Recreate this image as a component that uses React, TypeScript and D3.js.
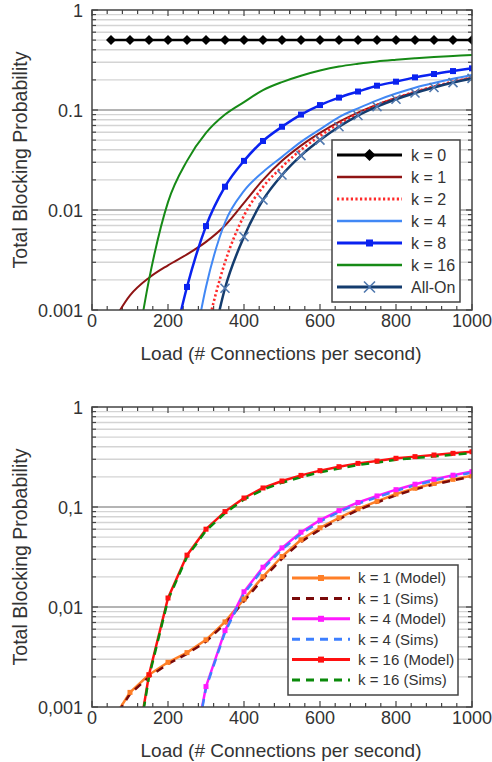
import React from "react";
import * as d3 from "d3";

// loads (# connections per second) at which every curve was sampled
const loads = [50, 100, 150, 200, 250, 300, 350, 400, 450, 500, 550, 600, 650, 700, 750, 800, 850, 900, 950, 1000];
const xTicks = [0, 200, 400, 600, 800, 1000];
const yTicks = [0.001, 0.01, 0.1, 1];
const topYLabels = ["0.001", "0.01", "0.1", "1"];
const bottomYLabels = ["0,001", "0,01", "0,1", "1"];
const xTitle = "Load (# Connections per second)";
const yTitle = "Total Blocking Probability";

// top panel, values start at the given load
const k0Start = 50;
const k0 = [0.5, 0.5, 0.5, 0.5, 0.5, 0.5, 0.5, 0.5, 0.5, 0.5, 0.5, 0.5, 0.5, 0.5, 0.5, 0.5, 0.5, 0.5, 0.5, 0.5];
const k1Start = 50;
const k1 = [0.0007, 0.0014, 0.0021, 0.0028, 0.0036, 0.0048, 0.007, 0.0118, 0.02, 0.031, 0.044, 0.059, 0.076, 0.094, 0.113, 0.132, 0.151, 0.17, 0.19, 0.21];
const k2Start = 300;
const k2 = [0.0006, 0.003, 0.0088, 0.017, 0.027, 0.04, 0.055, 0.073, 0.092, 0.112, 0.132, 0.152, 0.172, 0.192, 0.211];
const k4Start = 250;
const k4 = [0.00016, 0.0017, 0.0075, 0.0155, 0.024, 0.034, 0.048, 0.064, 0.085, 0.104, 0.125, 0.146, 0.167, 0.186, 0.205, 0.224];
const k8Start = 200;
const k8 = [0.00026, 0.0017, 0.0069, 0.0171, 0.031, 0.049, 0.068, 0.09, 0.112, 0.133, 0.153, 0.175, 0.192, 0.212, 0.229, 0.245, 0.261];
const k16Start = 100;
const k16 = [0.00015, 0.002, 0.012, 0.031, 0.059, 0.09, 0.12, 0.158, 0.19, 0.22, 0.248, 0.272, 0.29, 0.306, 0.318, 0.329, 0.339, 0.347, 0.355];
const allOnStart = 300;
const allOn = [0.00023, 0.00165, 0.0054, 0.0126, 0.0224, 0.035, 0.05, 0.068, 0.088, 0.108, 0.128, 0.148, 0.168, 0.188, 0.207];

// bottom panel, model vs simulations
const k1ModelStart = 50;
const k1Model = [0.0007, 0.0014, 0.0021, 0.0028, 0.0035, 0.0047, 0.0071, 0.012, 0.0201, 0.032, 0.047, 0.062, 0.078, 0.096, 0.114, 0.135, 0.154, 0.172, 0.189, 0.205];
const k1Sims = [0.00068, 0.00135, 0.002, 0.0027, 0.0034, 0.0045, 0.0068, 0.0114, 0.0192, 0.0305, 0.0448, 0.0595, 0.0755, 0.093, 0.111, 0.131, 0.15, 0.168, 0.185, 0.201];
const k4ModelStart = 250;
const k4Model = [0.00016, 0.0016, 0.0058, 0.0142, 0.025, 0.039, 0.056, 0.074, 0.092, 0.111, 0.129, 0.149, 0.169, 0.189, 0.208, 0.226];
const k4Sims = [0.00015, 0.00155, 0.0056, 0.0136, 0.024, 0.0375, 0.054, 0.0715, 0.089, 0.108, 0.125, 0.145, 0.165, 0.184, 0.203, 0.221];
const k16ModelStart = 100;
const k16Model = [0.00015, 0.0021, 0.0123, 0.033, 0.06, 0.09, 0.123, 0.155, 0.182, 0.207, 0.231, 0.253, 0.273, 0.288, 0.307, 0.319, 0.331, 0.344, 0.357];
const k16Sims = [0.00014, 0.002, 0.0118, 0.0318, 0.058, 0.087, 0.119, 0.149, 0.175, 0.199, 0.222, 0.243, 0.263, 0.278, 0.297, 0.309, 0.321, 0.333, 0.346];

type Marker = "diamond" | "square" | "x" | null;
type Series = {
  label: string;
  start: number;
  values: number[];
  color: string;
  width: number;
  dash?: string;
  marker: Marker;
  markerColor?: string;
  markerSize?: number;
};

const topSeries: Series[] = [
  { label: "k = 0", start: k0Start, values: k0, color: "#000", width: 2.5, marker: "diamond", markerSize: 5 },
  { label: "k = 1", start: k1Start, values: k1, color: "#8f1414", width: 2, marker: null },
  { label: "k = 2", start: k2Start, values: k2, color: "#ff2a2a", width: 2.6, dash: "2.2,2.4", marker: null },
  { label: "k = 4", start: k4Start, values: k4, color: "#4188f5", width: 2, marker: null },
  { label: "k = 8", start: k8Start, values: k8, color: "#0a22f0", width: 2.5, marker: "square", markerSize: 6 },
  { label: "k = 16", start: k16Start, values: k16, color: "#168a16", width: 2, marker: null },
  { label: "All-On", start: allOnStart, values: allOn, color: "#143c6e", width: 2.5, marker: "x", markerColor: "#5078ae", markerSize: 4.5 },
];

const bottomSeries: Series[] = [
  { label: "k = 1 (Model)", start: k1ModelStart, values: k1Model, color: "#ff7f27", width: 2.5, marker: "square", markerSize: 5 },
  { label: "k = 1 (Sims)", start: k1ModelStart, values: k1Sims, color: "#7a0a0a", width: 2.5, dash: "8,6", marker: null },
  { label: "k = 4 (Model)", start: k4ModelStart, values: k4Model, color: "#ff1aff", width: 2.5, marker: "square", markerSize: 5 },
  { label: "k = 4 (Sims)", start: k4ModelStart, values: k4Sims, color: "#3d7fff", width: 2.5, dash: "8,6", marker: null },
  { label: "k = 16 (Model)", start: k16ModelStart, values: k16Model, color: "#ff1010", width: 2.5, marker: "square", markerSize: 5 },
  { label: "k = 16 (Sims)", start: k16ModelStart, values: k16Sims, color: "#0a8a0a", width: 2.5, dash: "8,6", marker: null },
];

const FONT = "'Liberation Sans', Arial, Helvetica, sans-serif";
const TEXT = "#333";

function MarkerShape({ kind, cx, cy, color, size }: { kind: Marker; cx: number; cy: number; color: string; size: number }) {
  if (kind === "diamond") {
    const r = size;
    return <path d={`M${cx},${cy - r}L${cx + r},${cy}L${cx},${cy + r}L${cx - r},${cy}Z`} fill={color} />;
  }
  if (kind === "square") {
    return <rect x={cx - size / 2} y={cy - size / 2} width={size} height={size} fill={color} />;
  }
  if (kind === "x") {
    const r = size;
    return (
      <path d={`M${cx - r},${cy - r}L${cx + r},${cy + r}M${cx - r},${cy + r}L${cx + r},${cy - r}`} stroke={color} strokeWidth={1.6} fill="none" />
    );
  }
  return null;
}

type LegendBox = { x0: number; x1: number; y0: number; y1: number; row0: number; step: number; lineX0: number; lineX1: number; textX: number; fontSize: number };

function Panel({ top, series, yLabels, legend, smooth, id }: { top: number; series: Series[]; yLabels: string[]; legend: LegendBox; smooth: boolean; id: string }) {
  const left = 92;
  const right = 472;
  const bottom = top + 300;
  const x = d3.scaleLinear().domain([0, 1000]).range([left, right]);
  const y = d3.scaleLog().domain([0.001, 1]).range([bottom, top]);

  const minorY = d3.range(-3, 0).flatMap((e) => d3.range(2, 10).map((m) => m * Math.pow(10, e)));
  const minorX = d3.range(0, 1001, 40);

  const line = d3
    .line<[number, number]>()
    .x((d) => x(d[0]))
    .y((d) => y(d[1]))
    .curve(smooth ? d3.curveMonotoneX : d3.curveLinear);

  const pts = (s: Series): [number, number][] => {
    const i0 = loads.indexOf(s.start);
    return s.values.map((v, i) => [loads[i0 + i], v]);
  };

  return (
    <g fontFamily={FONT}>
      <defs>
        <clipPath id={id}>
          <rect x={left} y={top} width={right - left} height={bottom - top} />
        </clipPath>
      </defs>
      <rect x={left} y={top} width={right - left} height={bottom - top} fill="#fff" />
      {/* horizontal grid */}
      {minorY.map((v) => (
        <line key={"g" + v} x1={left} x2={right} y1={y(v)} y2={y(v)} stroke="#d4d4d4" strokeWidth={1.4} />
      ))}
      {yTicks.slice(1, 3).map((v) => (
        <line key={"G" + v} x1={left} x2={right} y1={y(v)} y2={y(v)} stroke="#b4b4b4" strokeWidth={2.2} />
      ))}
      {/* ticks */}
      {minorX.map((v) => {
        const len = v % 200 === 0 ? 6 : 4;
        return (
          <g key={"tx" + v} stroke="#444" strokeWidth={1.2}>
            <line x1={x(v)} x2={x(v)} y1={bottom} y2={bottom - len} />
            <line x1={x(v)} x2={x(v)} y1={top} y2={top + len} />
          </g>
        );
      })}
      {minorY.concat(yTicks).map((v) => {
        const len = yTicks.includes(v) ? 6 : 4;
        return (
          <g key={"ty" + v} stroke="#444" strokeWidth={1.2}>
            <line x1={left} x2={left + len} y1={y(v)} y2={y(v)} />
            <line x1={right} x2={right - len} y1={y(v)} y2={y(v)} />
          </g>
        );
      })}
      {/* series */}
      <g clipPath={`url(#${id})`}>
        {series.map((s) => (
          <path key={s.label} d={line(pts(s)) || ""} fill="none" stroke={s.color} strokeWidth={s.width} strokeDasharray={s.dash} strokeLinejoin="round" />
        ))}
        {series.map((s) =>
          s.marker
            ? pts(s)
                .filter((d) => d[1] >= 0.001)
                .map((d) => (
                  <MarkerShape key={s.label + d[0]} kind={s.marker} cx={x(d[0])} cy={y(d[1])} color={s.markerColor || s.color} size={s.markerSize || 5} />
                ))
            : null
        )}
      </g>
      <rect x={left} y={top} width={right - left} height={bottom - top} fill="none" stroke="#444" strokeWidth={1.5} />
      {/* tick labels */}
      {xTicks.map((v) => (
        <text key={"lx" + v} x={x(v)} y={bottom + 17} textAnchor="middle" fontSize={18} fill={TEXT}>
          {v}
        </text>
      ))}
      {yTicks.map((v, i) => (
        <text key={"ly" + v} x={83} y={y(v) + 6.5} textAnchor="end" fontSize={18} fill={TEXT}>
          {yLabels[i]}
        </text>
      ))}
      <text x={281} y={bottom + 50} textAnchor="middle" fontSize={19} fill={TEXT}>
        {xTitle}
      </text>
      <text transform={`translate(27,${(top + bottom) / 2}) rotate(-90)`} textAnchor="middle" fontSize={19.5} fill={TEXT}>
        {yTitle}
      </text>
      {/* legend */}
      <rect x={legend.x0} y={legend.y0} width={legend.x1 - legend.x0} height={legend.y1 - legend.y0} fill="#fff" stroke="#444" strokeWidth={1.5} />
      {series.map((s, i) => {
        const ry = legend.row0 + i * legend.step;
        const mx = (legend.lineX0 + legend.lineX1) / 2;
        return (
          <g key={"lg" + s.label}>
            <line x1={legend.lineX0} x2={legend.lineX1} y1={ry} y2={ry} stroke={s.color} strokeWidth={s.width + 0.5} strokeDasharray={s.dash} />
            {s.marker && <MarkerShape kind={s.marker} cx={mx} cy={ry} color={s.markerColor || s.color} size={(s.markerSize || 5) + 1} />}
            <text x={legend.textX} y={ry + legend.fontSize * 0.36} fontSize={legend.fontSize} fill={TEXT}>
              {s.label}
            </text>
          </g>
        );
      })}
    </g>
  );
}

export default function App() {
  return (
    <svg width={492} height={762} style={{ position: "absolute", left: 0, top: 0, background: "#fff" }}>
      <Panel
        id="clipTop"
        top={10}
        series={topSeries}
        yLabels={topYLabels}
        smooth={true}
        legend={{ x0: 332, x1: 460, y0: 140, y1: 302, row0: 155, step: 22, lineX0: 337, lineX1: 402, textX: 411, fontSize: 16 }}
      />
      <Panel
        id="clipBottom"
        top={407}
        series={bottomSeries}
        yLabels={bottomYLabels}
        smooth={false}
        legend={{ x0: 288, x1: 458, y0: 565, y1: 695, row0: 578, step: 20.4, lineX0: 292, lineX1: 350, textX: 358, fontSize: 15 }}
      />
    </svg>
  );
}
